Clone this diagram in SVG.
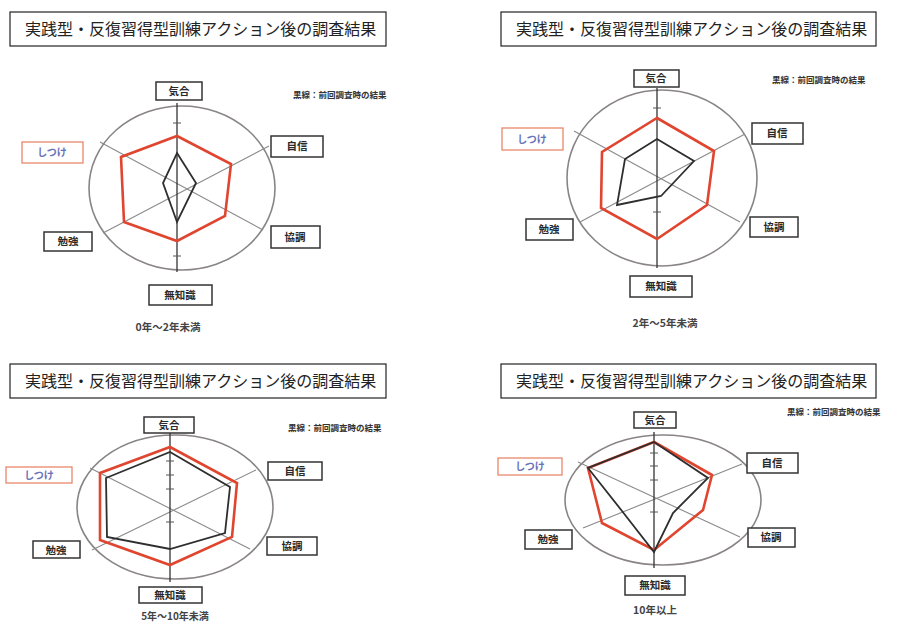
<svg xmlns="http://www.w3.org/2000/svg" width="915" height="627" viewBox="0 0 915 627">
<style>
.title{font-family:"Liberation Serif","Noto Sans CJK JP",serif;font-size:16px;fill:#222}
.tbox{fill:#fff;stroke:#222;stroke-width:1.2}
.ring{fill:none;stroke:#8a8585;stroke-width:1.6}
.spoke{fill:none;stroke:#8a8a8a;stroke-width:1.1}
.axis{fill:none;stroke:#333;stroke-width:1.3}
.red{fill:none;stroke:#e0452f;stroke-width:2.6;stroke-linejoin:miter}
.blk{fill:none;stroke:#2e2e2e;stroke-width:1.8;stroke-linejoin:miter}
.lbox{fill:#fff;stroke:#333;stroke-width:1.5}
.sbox{fill:#fff;stroke:#e8876a;stroke-width:1.3}
.lab{font-family:"Noto Sans CJK JP",sans-serif;font-size:10.5px;font-weight:700;fill:#2a2a2a;text-anchor:middle}
.slab{font-family:"Noto Sans CJK JP",sans-serif;font-size:10px;font-weight:700;fill:#6a72b8;text-anchor:middle}
.leg{font-family:"Noto Sans CJK JP",sans-serif;font-size:8.5px;font-weight:700;fill:#333}
.cap{font-family:"Noto Sans CJK JP",sans-serif;font-size:10.5px;font-weight:700;fill:#444;text-anchor:middle}
.tick{stroke:#555;stroke-width:1}
</style>
<rect width="915" height="627" fill="#fff"/>

<!-- Panel 1 -->
<g id="panel1">
  <g id="p1-title"><rect class="tbox" x="10" y="12" width="376" height="34"/><text class="title" x="25" y="35">実践型・反復習得型訓練アクション後の調査結果</text></g>
  <g id="p1-chart">
    <ellipse class="ring" cx="182" cy="188" rx="93" ry="82"/>
    <g class="spokes">
      <line class="spoke" x1="100" y1="142" x2="263" y2="230"/>
      <line class="spoke" x1="269" y1="146" x2="103" y2="233"/>
      <line class="axis" x1="177" y1="103" x2="177" y2="272"/>
      <line class="tick" x1="173" y1="123" x2="181" y2="123"/>
      <line class="tick" x1="173" y1="256" x2="181" y2="256"/>
    </g>
    <polygon class="red" points="177,136 231,164 225,216 177,241 124,222 121,157"/>
    <polygon class="blk" points="177,153 196,183 177,222 163,183"/>
  </g>
  <g id="p1-n1"><rect class="lbox" x="156" y="82" width="46" height="18"/><text class="lab" x="179" y="95">気合</text></g>
  <g id="p1-n2"><rect class="lbox" x="271" y="136" width="52" height="21"/><text class="lab" x="297" y="150">自信</text></g>
  <g id="p1-n3"><rect class="lbox" x="271" y="226" width="49" height="22"/><text class="lab" x="295" y="241">協調</text></g>
  <g id="p1-n4"><rect class="lbox" x="149" y="285" width="63" height="20"/><text class="lab" x="180" y="299">無知識</text></g>
  <g id="p1-n5"><rect class="lbox" x="44" y="232" width="48" height="19"/><text class="lab" x="68" y="245">勉強</text></g>
  <g id="p1-n6"><rect class="sbox" x="22" y="142" width="61" height="21"/><text class="slab" x="52" y="156">しつけ</text></g>
  <text class="leg" x="293" y="98">黒線：前回調査時の結果</text>
  <text class="cap" x="168" y="331">0年～2年未満</text>
</g>

<!-- Panel 2 -->
<g id="panel2">
  <g id="p2-title"><rect class="tbox" x="501" y="12" width="375" height="34"/><text class="title" x="516" y="35">実践型・反復習得型訓練アクション後の調査結果</text></g>
  <g id="p2-chart">
    <ellipse class="ring" cx="662" cy="178" rx="95" ry="88"/>
    <g class="spokes">
      <line class="spoke" x1="574" y1="131" x2="740" y2="222"/>
      <line class="spoke" x1="745" y1="134" x2="580" y2="222"/>
      <line class="axis" x1="657" y1="88" x2="657" y2="268"/>
      <line class="tick" x1="653" y1="108" x2="661" y2="108"/>
      <line class="tick" x1="653" y1="212" x2="661" y2="212"/>
    </g>
    <polygon class="red" points="657,118 714,151 707,205 657,239 601,208 602,152"/>
    <polygon class="blk" points="657,139 694,161 661,196 617,205 625,159"/>
  </g>
  <g id="p2-n1"><rect class="lbox" x="634" y="70" width="45" height="17"/><text class="lab" x="656" y="82">気合</text></g>
  <g id="p2-n2"><rect class="lbox" x="752" y="123" width="51" height="21"/><text class="lab" x="777" y="137">自信</text></g>
  <g id="p2-n3"><rect class="lbox" x="750" y="217" width="48" height="20"/><text class="lab" x="774" y="231">協調</text></g>
  <g id="p2-n4"><rect class="lbox" x="630" y="276" width="62" height="21"/><text class="lab" x="661" y="290">無知識</text></g>
  <g id="p2-n5"><rect class="lbox" x="526" y="219" width="47" height="21"/><text class="lab" x="549" y="233">勉強</text></g>
  <g id="p2-n6"><rect class="sbox" x="502" y="128" width="61" height="22"/><text class="slab" x="532" y="143">しつけ</text></g>
  <text class="leg" x="772" y="83">黒線：前回調査時の結果</text>
  <text class="cap" x="665" y="327">2年～5年未満</text>
</g>

<!-- Panel 3 -->
<g id="panel3">
  <g id="p3-title"><rect class="tbox" x="10" y="364" width="376" height="34"/><text class="title" x="25" y="387">実践型・反復習得型訓練アクション後の調査結果</text></g>
  <g id="p3-chart">
    <ellipse class="ring" cx="175" cy="507" rx="98" ry="72"/>
    <g class="spokes">
      <line class="spoke" x1="90" y1="468" x2="250" y2="549"/>
      <line class="spoke" x1="256" y1="470" x2="92" y2="550"/>
      <line class="axis" x1="170" y1="432" x2="170" y2="582"/>
      <line class="tick" x1="166" y1="461" x2="174" y2="461"/>
      <line class="tick" x1="166" y1="475" x2="174" y2="475"/>
      <line class="tick" x1="166" y1="489" x2="174" y2="489"/>
      <line class="tick" x1="166" y1="522" x2="174" y2="522"/>
    </g>
    <polygon class="red" points="170,447 237,483 232,537 170,565 100,540 100,473"/>
    <polygon class="blk" points="170,452 230,487 225,533 170,549 107,537 106,478"/>
  </g>
  <g id="p3-n1"><rect class="lbox" x="144" y="417" width="50" height="16"/><text class="lab" x="169" y="429">気合</text></g>
  <g id="p3-n2"><rect class="lbox" x="268" y="462" width="54" height="18"/><text class="lab" x="295" y="475">自信</text></g>
  <g id="p3-n3"><rect class="lbox" x="267" y="537" width="50" height="18"/><text class="lab" x="292" y="550">協調</text></g>
  <g id="p3-n4"><rect class="lbox" x="139" y="587" width="63" height="16"/><text class="lab" x="170" y="599">無知識</text></g>
  <g id="p3-n5"><rect class="lbox" x="33" y="541" width="47" height="17"/><text class="lab" x="56" y="554">勉強</text></g>
  <g id="p3-n6"><rect class="sbox" x="6" y="467" width="66" height="16"/><text class="slab" x="39" y="479">しつけ</text></g>
  <text class="leg" x="288" y="431">黒線：前回調査時の結果</text>
  <text class="cap" x="175" y="620" style="font-size:10px">5年～10年未満</text>
</g>

<!-- Panel 4 -->
<g id="panel4">
  <g id="p4-title"><rect class="tbox" x="501" y="364" width="375" height="34"/><text class="title" x="516" y="387">実践型・反復習得型訓練アクション後の調査結果</text></g>
  <g id="p4-chart">
    <ellipse class="ring" cx="663" cy="500" rx="98" ry="65"/>
    <g class="spokes">
      <line class="spoke" x1="578" y1="462" x2="740" y2="537"/>
      <line class="spoke" x1="742" y1="464" x2="583" y2="528"/>
      <line class="axis" x1="654" y1="432" x2="654" y2="568"/>
      <line class="tick" x1="650" y1="453" x2="658" y2="453"/>
      <line class="tick" x1="650" y1="466" x2="658" y2="466"/>
      <line class="tick" x1="650" y1="480" x2="658" y2="480"/>
      <line class="tick" x1="650" y1="512" x2="658" y2="512"/>
    </g>
    <polygon class="red" points="654,442 712,475 703,510 654,550 602,523 588,468"/>
    <polygon class="blk" points="654,442 708,478 673,513 654,552 622,511 588,468"/>
  </g>
  <g id="p4-n1"><rect class="lbox" x="634" y="412" width="42" height="16"/><text class="lab" x="655" y="424">気合</text></g>
  <g id="p4-n2"><rect class="lbox" x="747" y="453" width="51" height="20"/><text class="lab" x="772" y="467">自信</text></g>
  <g id="p4-n3"><rect class="lbox" x="748" y="528" width="47" height="19"/><text class="lab" x="771" y="541">協調</text></g>
  <g id="p4-n4"><rect class="lbox" x="625" y="576" width="60" height="19"/><text class="lab" x="655" y="589">無知識</text></g>
  <g id="p4-n5"><rect class="lbox" x="525" y="530" width="47" height="19"/><text class="lab" x="548" y="543">勉強</text></g>
  <g id="p4-n6"><rect class="sbox" x="498" y="458" width="64" height="17"/><text class="slab" x="530" y="470">しつけ</text></g>
  <text class="leg" x="787" y="415">黒線：前回調査時の結果</text>
  <text class="cap" x="655" y="614">10年以上</text>
</g>
</svg>
